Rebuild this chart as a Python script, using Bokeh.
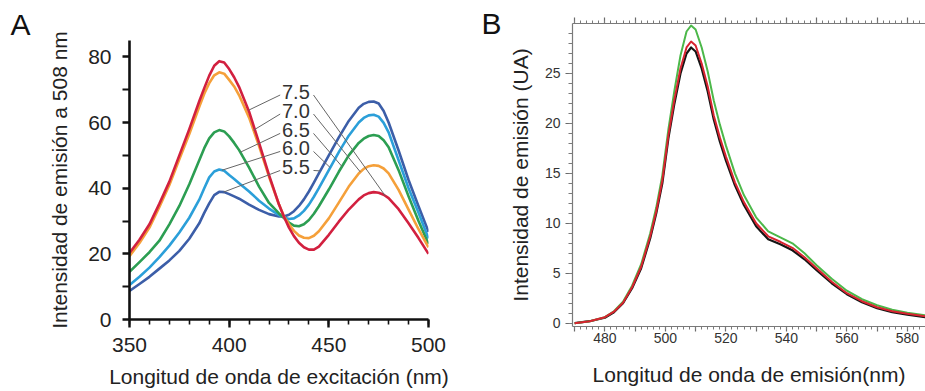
import numpy as np
from bokeh.plotting import figure
from bokeh.layouts import row
from bokeh.models import FixedTicker, LinearAxis
from bokeh.core.properties import value
from bokeh.embed import file_html
from bokeh.resources import INLINE

# ---------------- Panel A data (excitation spectra, pH series) ----------------
wl_exc = [350, 355, 360, 365, 370, 375, 380, 385, 387.5, 390, 392.5, 395, 397.5, 400, 402.5,
          405, 410, 415, 420, 425, 427.5, 430, 432.5, 435, 437.5, 440, 442.5, 445, 450, 455,
          460, 465, 467.5, 470, 472.5, 475, 477.5, 480, 485, 490, 495, 500]
ph_7_5 = [20.3, 24.3, 29.0, 35.3, 42.0, 50.0, 58.0, 66.5, 70.5, 74.3, 77.3, 78.7, 78.3, 76.3, 73.8,
          70.8, 63.3, 53.8, 44.0, 35.0, 31.3, 28.0, 25.4, 23.4, 22.0, 21.3, 21.3, 22.2, 25.8, 29.8,
          33.5, 36.6, 37.8, 38.5, 38.8, 38.6, 38.0, 37.0, 33.6, 29.3, 24.8, 20.0]
ph_7_0 = [19.3, 23.3, 28.0, 34.3, 41.0, 48.8, 56.5, 64.8, 68.8, 72.0, 74.4, 75.3, 74.9, 73.0, 71.0,
          68.3, 61.5, 52.8, 43.5, 35.0, 31.4, 29.0, 27.0, 25.6, 24.9, 24.8, 25.5, 26.9, 30.8, 35.6,
          40.5, 44.5, 45.9, 46.7, 47.0, 46.8, 46.0, 44.5, 39.5, 33.5, 27.5, 22.0]
ph_6_5 = [14.5, 17.5, 20.5, 24.0, 29.0, 34.6, 41.2, 48.5, 52.2, 55.2, 57.0, 57.7, 57.3, 55.8, 53.8,
          51.6, 46.3, 40.5, 35.5, 32.3, 30.9, 29.5, 28.6, 28.4, 29.0, 30.3, 32.2, 34.5, 39.6, 45.0,
          50.0, 53.8, 55.1, 55.9, 56.2, 55.9, 54.6, 52.5, 45.5, 37.5, 30.0, 23.0]
ph_6_0 = [10.5, 13.0, 15.8, 19.0, 22.5, 26.5, 31.0, 36.5, 40.0, 43.3, 45.1, 45.7, 45.3, 44.0, 42.8,
          41.5, 39.0, 36.2, 33.8, 31.8, 31.1, 30.6, 30.8, 31.7, 33.1, 35.0, 37.4, 40.0, 45.5, 51.0,
          56.0, 60.0, 61.4, 62.2, 62.4, 61.8, 59.9, 57.0, 48.5, 40.0, 32.5, 24.7]
ph_5_5 = [8.7, 10.8, 13.0, 15.5, 18.0, 20.9, 24.6, 29.3, 32.5, 35.4, 37.9, 38.9, 38.8, 38.2, 37.5,
          36.8, 35.0, 33.4, 32.1, 31.4, 31.4, 31.9, 33.0, 34.6, 36.6, 39.0, 41.7, 44.5, 50.0, 55.5,
          60.5, 64.5, 65.7, 66.3, 66.4, 65.8, 63.5, 60.0, 51.5, 42.5, 34.5, 26.7]
ph_labels = ["7.5", "7.0", "6.5", "6.0", "5.5"]
colors_a = ["#d2203f", "#f5a03a", "#2c9e52", "#2b9fd9", "#3c5ea8"]

# ---------------- Panel B data (emission spectra) ----------------
wl_em = [470, 475, 480, 483, 486, 489, 492, 495, 497, 499, 501, 503, 505, 507, 508.5, 510,
         512, 514, 516, 518, 520, 523, 526, 530, 534, 538, 542, 546, 550, 555, 560, 565,
         570, 575, 580, 586]
em_black = [0.0, 0.2, 0.55, 1.1, 2.0, 3.5, 5.5, 8.5, 11.0, 14.0, 18.5, 22.0, 25.0, 27.0, 27.6, 27.2,
            25.5, 23.2, 20.4, 18.2, 16.3, 13.8, 11.8, 9.7, 8.4, 7.9, 7.3, 6.4, 5.3, 4.0, 2.9, 2.1,
            1.5, 1.1, 0.85, 0.6]
em_red = [0.0, 0.2, 0.6, 1.15, 2.05, 3.6, 5.65, 8.7, 11.2, 14.3, 18.8, 22.4, 25.5, 27.6, 28.2, 27.8,
          26.0, 23.7, 20.8, 18.6, 16.7, 14.1, 12.1, 10.0, 8.7, 8.15, 7.55, 6.6, 5.5, 4.15, 3.0, 2.2,
          1.6, 1.2, 0.95, 0.7]
em_green = [0.0, 0.2, 0.6, 1.2, 2.15, 3.75, 5.9, 9.0, 11.6, 14.8, 19.4, 23.3, 26.8, 29.2, 29.8, 29.4,
            27.6, 25.2, 22.3, 19.9, 17.8, 15.0, 12.8, 10.6, 9.2, 8.6, 8.0, 7.0, 5.8, 4.45, 3.25, 2.4,
            1.8, 1.35, 1.05, 0.8]

FONT = "Liberation Sans"

# ================= Panel A =================
pA = figure(width=460, height=391, x_range=(350, 500), y_range=(0, 85),
            output_backend="svg", toolbar_location=None, frame_align=False,
            min_border_left=129, min_border_right=32, min_border_top=40, min_border_bottom=72)
pA.outline_line_color = None
pA.grid.visible = False

# panel letter as a left-aligned title shifted to the page edge
pA.title.text = "A"
pA.title.align = "left"
pA.title.offset = -119
pA.title.standoff = 0
pA.title.text_font = FONT
pA.title.text_font_size = "30px"
pA.title.text_font_style = "normal"
pA.title.text_color = "#111111"

series = [ph_7_5, ph_7_0, ph_6_5, ph_6_0, ph_5_5]
for ys, c in reversed(list(zip(series, colors_a))):
    pA.line(wl_exc, ys, line_color=c, line_width=2.6, line_join="round")

# pH labels with leader lines to each curve
lab_x = 426.5
lab_y = [69.4, 63.6, 57.7, 52.2, 46.4]
left_tx = [409.7, 412.2, 405.6, 396.4, 397.2]
right_tx = [478.3, 465.8, 456.6, 450.7, 445.7]
x0s, y0s, x1s, y1s = [], [], [], []
for ys, ly, lt, rt in zip(series, lab_y, left_tx, right_tx):
    x0s += [425.6, 442.3]
    y0s += [ly - 1.0, ly - 1.0]
    x1s += [lt, rt]
    y1s += [float(np.interp(lt, wl_exc, ys)), float(np.interp(rt, wl_exc, ys))]
pA.segment(x0=x0s, y0=y0s, x1=x1s, y1=y1s, line_color="#666666", line_width=1)
pA.text(x=[lab_x] * 5, y=lab_y, text=ph_labels, text_font=value(FONT),
        text_font_size="20px", text_baseline="middle", text_align="left", text_color="#333333")

xa = pA.xaxis[0]
xa.ticker = FixedTicker(ticks=[350, 400, 450, 500], minor_ticks=list(range(350, 501, 10)))
ya = pA.yaxis[0]
ya.ticker = FixedTicker(ticks=[0, 20, 40, 60, 80], minor_ticks=[10, 30, 50, 70])
for ax in (xa, ya):
    ax.axis_line_width = 2.6
    ax.axis_line_color = "#111111"
    ax.major_tick_line_width = 2.4
    ax.major_tick_line_color = "#111111"
    ax.minor_tick_line_color = "#111111"
    ax.major_tick_in = 0
    ax.minor_tick_in = 0
    ax.major_label_text_font = FONT
    ax.major_label_text_font_size = "21px"
    ax.major_label_text_color = "#222222"
    ax.axis_label_text_font = FONT
    ax.axis_label_text_font_size = "21px"
    ax.axis_label_text_font_style = "normal"
    ax.axis_label_text_color = "#222222"
xa.major_tick_out = 8
xa.minor_tick_out = 5
xa.minor_tick_line_width = 1.6
xa.major_label_standoff = 10
xa.axis_label_standoff = 10
xa.axis_label = "Longitud de onda de excitación (nm)"
ya.major_tick_out = 7
ya.minor_tick_out = 7
ya.minor_tick_line_width = 2.2
ya.major_label_standoff = 11
ya.axis_label_standoff = 14
ya.axis_label = "Intensidad de emisión a 508 nm"

# ================= Panel B =================
pB = figure(width=465, height=391, x_range=(469.3, 586.0), y_range=(-0.33, 30),
            output_backend="svg", toolbar_location=None, frame_align=False,
            min_border_left=112, min_border_right=0, min_border_top=23, min_border_bottom=65)
pB.outline_line_color = None
pB.grid.visible = False

pB.line(wl_em, em_black, line_color="#151515", line_width=2.2, line_join="round")
pB.line(wl_em, em_green, line_color="#4cb84a", line_width=2.0, line_join="round")
pB.line(wl_em, em_red, line_color="#d8232f", line_width=2.0, line_join="round")

xticks_b = list(range(470, 581, 10))
overrides = {t: "" for t in xticks_b if t % 20 != 0}
top_ax = LinearAxis()
pB.add_layout(top_ax, "above")
bx = pB.below[0]
for ax in (bx, top_ax):
    ax.ticker = FixedTicker(ticks=xticks_b, minor_ticks=list(range(470, 586, 2)))
    ax.major_label_overrides = overrides
yb = pB.yaxis[0]
yb.ticker = FixedTicker(ticks=[0, 5, 10, 15, 20, 25], minor_ticks=list(range(0, 30)))
for ax in (bx, top_ax, yb):
    ax.axis_line_color = "#7a7a7a"
    ax.axis_line_width = 1.2
    ax.major_tick_line_color = "#6a6a6a"
    ax.minor_tick_line_color = "#7a7a7a"
    ax.major_tick_line_width = 1.2
    ax.minor_tick_line_width = 1
    ax.major_tick_in = 0
    ax.minor_tick_in = 0
    ax.major_tick_out = 6
    ax.minor_tick_out = 3
    ax.major_label_text_font = FONT
    ax.major_label_text_font_size = "14px"
    ax.major_label_text_color = "#333333"
    ax.axis_label_text_font = FONT
    ax.axis_label_text_font_size = "21px"
    ax.axis_label_text_font_style = "normal"
    ax.axis_label_text_color = "#222222"
top_ax.major_label_text_color = None
top_ax.major_label_text_font_size = "1px"
top_ax.major_label_standoff = 0
yb.major_tick_out = 7
yb.minor_tick_out = 4
bx.major_tick_out = 5
bx.major_label_standoff = 1
bx.axis_label_standoff = 17
bx.axis_label = "Longitud de onda de emisión(nm)"
yb.major_label_standoff = 5
yb.axis_label_standoff = 10
yb.axis_label = "Intensidad de emisión (UA)"

# panel letter "B" drawn as the single label of a tick-less extra left axis
b_ax = LinearAxis(ticker=FixedTicker(ticks=[30], minor_ticks=[]), bounds=(29.5, 30.5))
b_ax.major_label_overrides = {30: "B"}
b_ax.axis_line_color = None
b_ax.major_tick_line_color = None
b_ax.minor_tick_line_color = None
b_ax.major_tick_out = 0
b_ax.major_tick_in = 0
b_ax.major_label_standoff = 4
b_ax.major_label_text_font = FONT
b_ax.major_label_text_font_size = "30px"
b_ax.major_label_text_color = "#111111"
pB.add_layout(b_ax, "left")

layout = row(pA, pB)
open("out.html", "w").write(file_html(layout, INLINE))
